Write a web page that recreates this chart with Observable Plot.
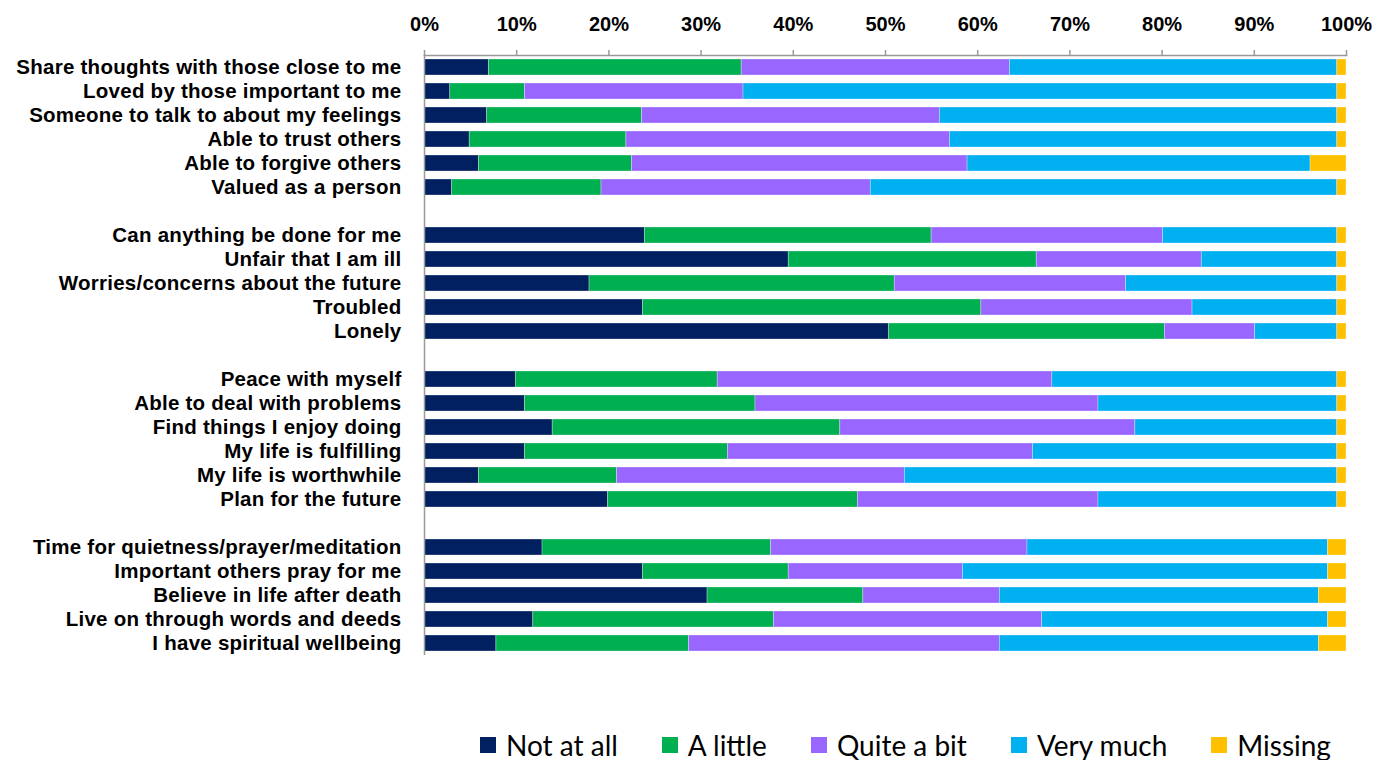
<!DOCTYPE html>
<html>
<head>
<meta charset="utf-8">
<script src="https://cdn.jsdelivr.net/npm/d3@7"></script>
<script src="https://cdn.jsdelivr.net/npm/@observablehq/plot@0.6"></script>
<style>
  html, body { margin: 0; padding: 0; background: #fff; }
  #chart { width: 1395px; height: 665px; }
  #chart g[aria-label="y-axis tick label"] { letter-spacing: 0.25px; }
  .legend { display: flex; align-items: center; margin-top: 65px; padding-left: 480px; font-family: Lato, "Open Sans", sans-serif; font-size: 28px; color: #000; height: 30px; }
  .legend .item { display: flex; align-items: center; margin-right: 44px; }
  .legend .sw { width: 16px; height: 16px; margin-right: 10px; }
</style>
</head>
<body>
<div id="chart"></div>
<script>
// Items (blank gap rows separate the four groups)
const items = [
  "Share thoughts with those close to me",
  "Loved by those important to me",
  "Someone to talk to about my feelings",
  "Able to trust others",
  "Able to forgive others",
  "Valued as a person",
  "gap1",
  "Can anything be done for me",
  "Unfair that I am ill",
  "Worries/concerns about the future",
  "Troubled",
  "Lonely",
  "gap2",
  "Peace with myself",
  "Able to deal with problems",
  "Find things I enjoy doing",
  "My life is fulfilling",
  "My life is worthwhile",
  "Plan for the future",
  "gap3",
  "Time for quietness/prayer/meditation",
  "Important others pray for me",
  "Believe in life after death",
  "Live on through words and deeds",
  "I have spiritual wellbeing"
];
const categories = items.filter(d => !d.startsWith("gap"));

const responses = ["Not at all", "A little", "Quite a bit", "Very much", "Missing"];
const colors = ["#002060", "#00B050", "#9966FF", "#00B0F0", "#FFC000"];

// Percentages per category (same order as categories)
const notAtAll  = [7.0, 2.8, 6.8, 4.9, 5.9, 3.0, 23.9, 39.5, 17.9, 23.7, 50.4, 9.9, 10.9, 13.9, 10.9, 5.9, 19.9, 12.8, 23.7, 30.7, 11.8, 7.8];
const aLittle   = [27.4, 8.1, 16.8, 17.0, 16.6, 16.2, 31.1, 26.9, 33.1, 36.7, 29.9, 21.9, 25.0, 31.2, 22.0, 15.0, 27.1, 24.8, 15.8, 16.9, 26.1, 20.9];
const quiteABit = [29.1, 23.7, 32.3, 35.1, 36.4, 29.2, 25.1, 17.9, 25.1, 22.9, 9.8, 36.3, 37.2, 32.0, 33.1, 31.2, 26.1, 27.8, 18.9, 14.8, 29.1, 33.7];
const veryMuch  = [35.5, 64.4, 43.1, 42.0, 37.2, 50.6, 18.9, 14.7, 22.9, 15.7, 8.9, 30.9, 25.9, 21.9, 33.0, 46.9, 25.9, 32.6, 39.6, 34.6, 31.0, 34.6];
const missing   = [1.0, 1.0, 1.0, 1.0, 3.9, 1.0, 1.0, 1.0, 1.0, 1.0, 1.0, 1.0, 1.0, 1.0, 1.0, 1.0, 1.0, 2.0, 2.0, 3.0, 2.0, 3.0];

const xTicks = [0, 10, 20, 30, 40, 50, 60, 70, 80, 90, 100];

const series = [notAtAll, aLittle, quiteABit, veryMuch, missing];
const data = [];
responses.forEach((r, i) => {
  categories.forEach((c, j) => data.push({item: c, response: r, value: series[i][j]}));
});

const chart = Plot.plot({
  width: 1395,
  height: 665,
  marginTop: 55,
  marginBottom: 10,
  marginLeft: 424,
  marginRight: 49,
  style: {fontFamily: "'Liberation Sans', Arial, sans-serif", background: "#fff"},
  x: {domain: [0, 100], label: null},
  y: {domain: items, padding: 0.35, paddingOuter: 0.175, label: null},
  color: {domain: responses, range: colors},
  marks: [
    Plot.barX(data, Plot.stackX({y: "item", x: "value", fill: "response", stroke: "#fff", strokeWidth: 0.6, strokeOpacity: 0.5})),
    Plot.frame({anchor: "top", stroke: "#999", strokeWidth: 1.5}),
    Plot.ruleX([0], {stroke: "#999", strokeWidth: 1.5}),
    Plot.axisX(xTicks, {anchor: "top", label: null, tickSize: 6, tickPadding: 19, stroke: "#999", strokeWidth: 1.5, tickFormat: d => d + "%", fontSize: 20, fontWeight: "bold", fill: "#000"}),
    Plot.axisY(categories, {anchor: "left", label: null, tickSize: 0, tickPadding: 23, fontSize: 20.5, fontWeight: "bold", fill: "#000"})
  ]
});
document.getElementById("chart").appendChild(chart);
</script>
<div class="legend" id="legend"></div>
<script>
const lg = document.getElementById("legend");
responses.forEach((r, i) => {
  const it = document.createElement("div");
  it.className = "item";
  const sw = document.createElement("div");
  sw.className = "sw";
  sw.style.background = colors[i];
  const tx = document.createElement("span");
  tx.textContent = r;
  it.appendChild(sw); it.appendChild(tx);
  lg.appendChild(it);
});
</script>
</body>
</html>
